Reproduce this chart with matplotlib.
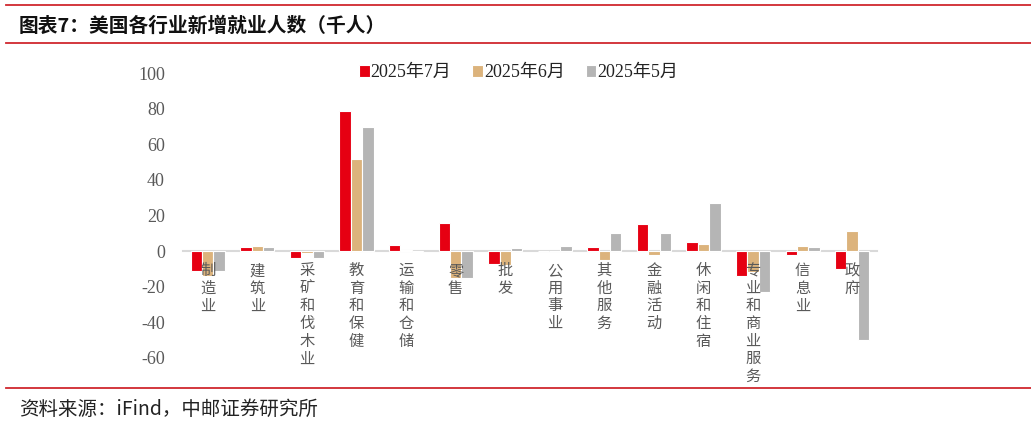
import matplotlib
matplotlib.use("Agg")
import matplotlib.pyplot as plt
from matplotlib.lines import Line2D
import numpy as np

plt.rcParams['font.family'] = ['Liberation Serif', 'Noto Sans CJK SC']

# data (千人)
industries = ['制造业', '建筑业', '采矿和伐木业', '教育和保健', '运输和仓储', '零售',
              '批发', '公用事业', '其他服务', '金融活动', '休闲和住宿',
              '专业和商业服务', '信息业', '政府']
jul_2025 = [-11, 2, -4, 79, 3.6, 16, -7.5, 0, 2.3, 15.2, 5.1, -14, -2, -10]
jun_2025 = [-14, 3, -1, 52, 0.5, -15, -8, 0, -5, -2, 4, -12, 3, 11]
may_2025 = [-11, 2, -4, 70, -0.5, -15, 1.5, 2.8, 10, 10, 27, -23, 2, -50]
series_names = ['2025年7月', '2025年6月', '2025年5月']
yticks = [-60, -40, -20, 0, 20, 40, 60, 80, 100]

colors = ['#e60012', '#dcb37c', '#b5b5b5']
label_grey = '#595959'
rule_red = '#d0282e'

fig = plt.figure(figsize=(10.31, 4.23), dpi=100)
ax = fig.add_axes([0.1775, 0.1544, 0.6731, 0.6723])

x = np.arange(len(industries))
step = 0.23
for k, (vals, c, name) in enumerate(zip([jul_2025, jun_2025, may_2025], colors, series_names)):
    ax.bar(x + (k - 1) * step, vals, width=step, color=c, edgecolor='white',
           linewidth=0.8, label=name, zorder=2)

ax.set_xlim(-0.5, len(industries) - 0.5)
ax.set_ylim(-60, 100)
ax.set_yticks(yticks)
ax.set_yticklabels([str(v) for v in yticks], fontsize=13, color=label_grey)

for s in ['top', 'right', 'left']:
    ax.spines[s].set_visible(False)
ax.spines['bottom'].set_position(('data', 0))
ax.spines['bottom'].set_color('#d9d9d9')
ax.spines['bottom'].set_linewidth(1.5)
ax.spines['bottom'].set_zorder(1)
ax.tick_params(axis='y', length=0, pad=13)
ax.tick_params(axis='x', length=0, pad=8)
ax.set_xticks(x)
ax.set_xticklabels(['\n'.join(name) for name in industries], fontsize=11,
                   color=label_grey, linespacing=1.05, va='top',
                   family=['Noto Sans CJK SC'])
# labels sit on top of the bars, as in the original
ax.xaxis.set_zorder(3)

ax.legend(loc='center', bbox_to_anchor=(0.503, 0.828), bbox_transform=fig.transFigure,
          ncol=3, frameon=False, fontsize=13, handlelength=0.6, handleheight=0.6,
          handletextpad=0.05, columnspacing=1.15, labelcolor='#222222')

# header / footer rules and texts
for yy in [5.5, 43.5, 388]:
    fig.add_artist(Line2D([6 / 1031, 1], [1 - yy / 423] * 2, color=rule_red, lw=1.3))
fig.text(19 / 1031, 1 - 26 / 423, '图表7：美国各行业新增就业人数（千人）', fontsize=14.2,
         fontweight='bold', va='center', ha='left', color='#111111',
         family=['Noto Sans CJK SC'])
fig.text(19 / 1031, 1 - 409 / 423, '资料来源：iFind，中邮证券研究所', fontsize=14,
         va='center', ha='left', color='#222222', family=['Noto Sans CJK SC'])

fig.savefig('out.png', dpi=100)
